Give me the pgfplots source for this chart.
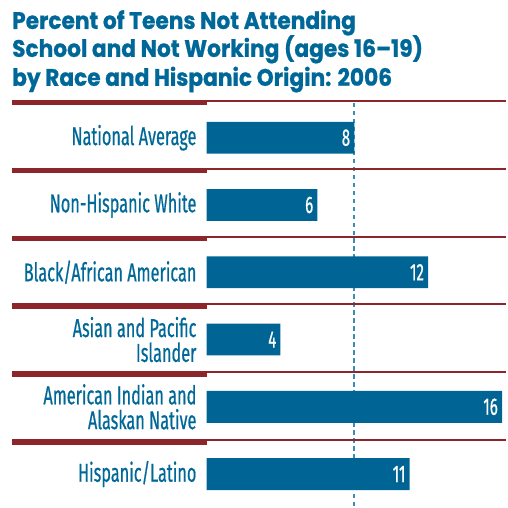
\documentclass[border=0pt]{standalone}
\usepackage{fontspec}
\usepackage{pgfplots}
\pgfplotsset{compat=1.18}
\setmainfont{Fira Sans}
\newfontfamily\labelfont{Fira Sans}[FakeStretch=0.63, FakeBold=0.6]
\newfontfamily\titlefont{Poppins}[FakeStretch=0.91, FakeBold=0.8]
\definecolor{barblue}{RGB}{0,101,149}
\definecolor{titleblue}{RGB}{0,104,152}
\definecolor{sepred}{RGB}{140,38,42}
\definecolor{dashblue}{RGB}{60,140,182}

\begin{document}
\begin{tikzpicture}
\begin{axis}[
  scale only axis, width=300bp, height=408bp,
  xmin=0, xmax=16.216, ymin=-0.564, ymax=5.49, y dir=reverse,
  axis line style={draw=none},
  xtick=\empty, ytick={0,...,5}, major tick length=0pt,
  yticklabels={National Average, Non-Hispanic White, Black/African American,
    Asian and Pacific\\Islander, American Indian and\\Alaskan Native, Hispanic/Latino},
  yticklabel style={font=\labelfont\fontsize{26}{25}\selectfont, text=titleblue,
    align=right, inner sep=0pt, xshift=-10bp},
  clip=false,
  /pgf/number format/assume math mode=true,
]
% national average reference line, drawn first so the bars cover it
\addplot[dashblue, line width=2bp, dash pattern=on 4.5bp off 3.5bp, no marks]
  coordinates {(8,-0.52) (8,5.49)};
\addplot[xbar, bar width=32bp, fill=barblue, draw=none,
  nodes near coords,
  every node near coord/.append style={font=\labelfont\fontsize{24}{24}\selectfont,
    white, anchor=east, inner sep=0pt, xshift=-4bp}] coordinates {
  (8,0) (6,1) (12,2) (4,3) (16,4) (11,5)};
\end{axis}
\begin{scope}[shift={(current axis.south west)}, x=1bp, y=1bp]
  \path (-207,0) rectangle (300,508);
  \foreach \k in {0,...,5} {
    \draw[sepred, line width=2bp] (0,{508-101-68*\k}) -- (300,{508-101-68*\k});
    \draw[sepred, line width=5.5bp] (-195,{508-102.8-68*\k}) -- (0,{508-102.8-68*\k});
  }
  \begin{scope}[every node/.style={anchor=base west, inner sep=0pt, text=titleblue,
      font=\titlefont\bfseries\fontsize{24}{24}\selectfont}]
    \node at (-195,479) {Percent of Teens Not Attending};
    \node at (-195,451) {School and Not Working (ages 16–19)};
    \node at (-195,422) {by Race and Hispanic Origin: 2006};
  \end{scope}
\end{scope}
\end{tikzpicture}
\end{document}
